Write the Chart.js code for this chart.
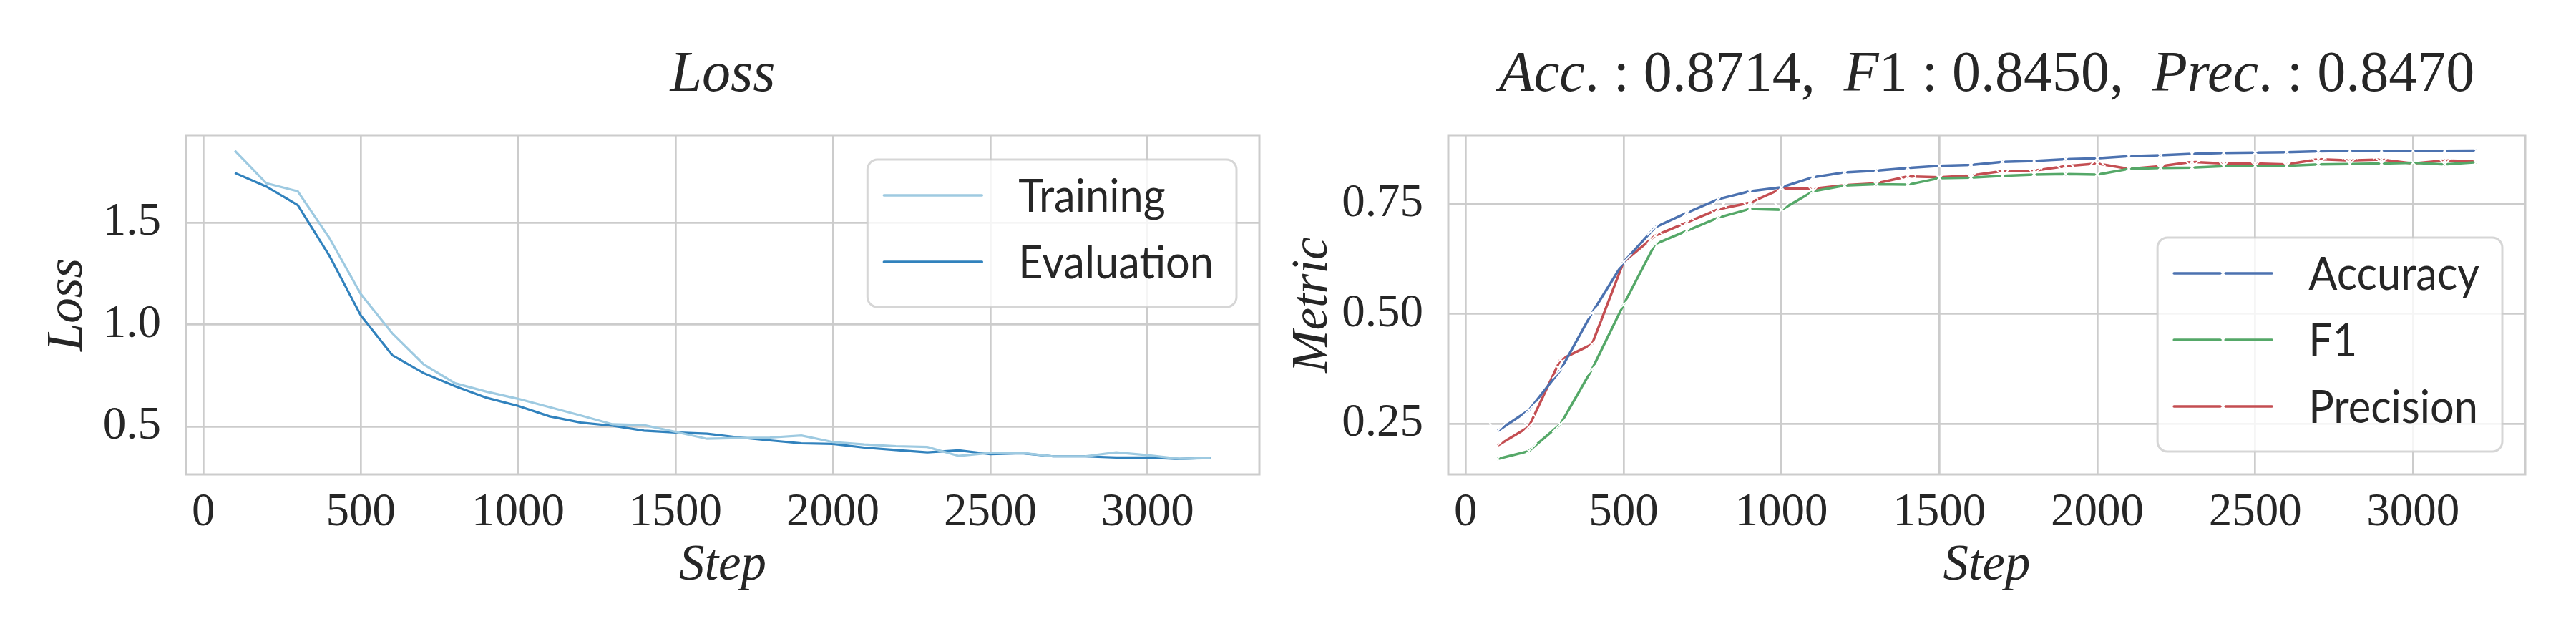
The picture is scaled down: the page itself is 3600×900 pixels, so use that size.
<!DOCTYPE html>
<html>
<head>
<meta charset="utf-8">
<script src="https://cdn.jsdelivr.net/npm/chart.js@4.4.0/dist/chart.umd.min.js"></script>
<style>
  html, body { margin: 0; padding: 0; background: #fff; }
  #wrap { position: relative; width: 3600px; height: 900px; }
  .panel { position: absolute; top: 0; width: 1800px; height: 900px; }
</style>
</head>
<body>
<div id="wrap">
  <div class="panel" style="left:0"><canvas id="lossChart" width="1800" height="900"></canvas></div>
  <div class="panel" style="left:1800px"><canvas id="metricChart" width="1800" height="900"></canvas></div>
</div>
<script>
// Chart data
const steps = [100, 200, 300, 400, 500, 600, 700, 800, 900, 1000, 1100, 1200, 1300, 1400, 1500, 1600,
               1700, 1800, 1900, 2000, 2100, 2200, 2300, 2400, 2500, 2600, 2700, 2800, 2900, 3000, 3100, 3200];
const trainingLoss = [1.852, 1.692, 1.653, 1.425, 1.150, 0.957, 0.805, 0.712, 0.671, 0.636, 0.595, 0.554, 0.511, 0.507, 0.474, 0.440,
                      0.444, 0.446, 0.456, 0.424, 0.412, 0.404, 0.400, 0.356, 0.371, 0.371, 0.354, 0.354, 0.374, 0.360, 0.342, 0.346];
const evaluationLoss = [1.743, 1.676, 1.585, 1.338, 1.045, 0.850, 0.762, 0.698, 0.641, 0.601, 0.550, 0.519, 0.504, 0.480, 0.471, 0.465,
                        0.447, 0.432, 0.418, 0.415, 0.397, 0.385, 0.374, 0.383, 0.365, 0.369, 0.354, 0.354, 0.348, 0.348, 0.341, 0.347];
const accuracy = [0.233, 0.281, 0.372, 0.502, 0.618, 0.697, 0.730, 0.761, 0.779, 0.788, 0.811, 0.822, 0.826, 0.832, 0.837, 0.839,
                  0.846, 0.848, 0.852, 0.854, 0.859, 0.861, 0.864, 0.866, 0.867, 0.868, 0.870, 0.871, 0.871, 0.871, 0.871, 0.8714];
const f1 = [0.170, 0.188, 0.249, 0.374, 0.521, 0.659, 0.689, 0.719, 0.739, 0.737, 0.779, 0.792, 0.795, 0.794, 0.809, 0.810,
            0.814, 0.817, 0.818, 0.817, 0.830, 0.832, 0.833, 0.836, 0.837, 0.837, 0.840, 0.841, 0.842, 0.844, 0.840, 0.845];
const precision = [0.200, 0.243, 0.396, 0.431, 0.618, 0.678, 0.708, 0.738, 0.753, 0.785, 0.785, 0.793, 0.797, 0.813, 0.811, 0.815,
                   0.825, 0.826, 0.836, 0.842, 0.830, 0.836, 0.846, 0.842, 0.842, 0.840, 0.852, 0.849, 0.851, 0.842, 0.849, 0.847];

// Tick labels
const stepTicks = [0, 500, 1000, 1500, 2000, 2500, 3000];
const stepTickLabels = ['0', '500', '1000', '1500', '2000', '2500', '3000'];
const lossTicks = [0.5, 1.0, 1.5];
const lossTickLabels = ['0.5', '1.0', '1.5'];
const metricTicks = [0.25, 0.5, 0.75];
const metricTickLabels = ['0.25', '0.50', '0.75'];

const SERIF = '"Liberation Serif", "DejaVu Serif", serif';
const SANS = 'Lato, "Open Sans", sans-serif';
const TEXT = '#262626';
const GRID = '#cccccc';

// matplotlib-like 5% margins around the data
function padRange(values) {
    const lo = Math.min(...values), hi = Math.max(...values);
    const m = (hi - lo) * 0.05;
    return [lo - m, hi + m];
}
const [xMin, xMax] = padRange(steps);
const [lossMin, lossMax] = padRange(trainingLoss.concat(evaluationLoss));
const [metricMin, metricMax] = padRange(accuracy.concat(f1, precision));

const points = arr => steps.map((s, i) => ({ x: s, y: arr[i] }));

// Frame round the plot area
const framePlugin = {
    id: 'frame',
    beforeDatasetsDraw(chart) {
        const { ctx, chartArea: a } = chart;
        ctx.save();
        ctx.strokeStyle = GRID;
        ctx.lineWidth = 3;
        ctx.strokeRect(a.left, a.top, a.right - a.left, a.bottom - a.top);
        ctx.restore();
    }
};

// Title with italic / upright runs, like mathtext
function mathTitle(runs) {
    return {
        id: 'mathTitle',
        afterDraw(chart) {
            const { ctx, chartArea: a } = chart;
            ctx.save();
            let total = 0;
            const parts = runs.map(([text, italic]) => {
                ctx.font = (italic ? 'italic ' : '') + '80px ' + SERIF;
                const w = ctx.measureText(text).width;
                total += w;
                return { text, font: ctx.font, w };
            });
            let x = (a.left + a.right) / 2 - total / 2;
            ctx.fillStyle = TEXT;
            ctx.textAlign = 'left';
            ctx.textBaseline = 'alphabetic';
            parts.forEach(p => {
                ctx.font = p.font;
                ctx.fillText(p.text, x, 127);
                x += p.w;
            });
            ctx.restore();
        }
    };
}

function drawCross(ctx, x, y) {
    const r = 11;
    ctx.save();
    ctx.strokeStyle = '#ffffff';
    ctx.lineWidth = 2;
    ctx.beginPath();
    ctx.moveTo(x - r, y - r); ctx.lineTo(x + r, y + r);
    ctx.moveTo(x - r, y + r); ctx.lineTo(x + r, y - r);
    ctx.stroke();
    ctx.restore();
}

// Legend box drawn inside the plot area
function boxLegend(corner, markers) {
    const squeeze = 0.93;
    return {
        id: 'boxLegend',
        afterDraw(chart) {
            const { ctx, chartArea: a } = chart;
            const sets = chart.data.datasets;
            ctx.save();
            ctx.font = '64px ' + SANS;
            const textW = squeeze * Math.max(...sets.map(d => ctx.measureText(d.label).width));
            const w = 23 + 137 + 51 + textW + 32;
            const h = 50 + 93 * (sets.length - 1) + 63;
            const x = a.right - 32 - w;
            const y = corner === 'upper' ? a.top + 34 : a.bottom - 32 - h;
            ctx.beginPath();
            ctx.roundRect(x, y, w, h, 14);
            ctx.fillStyle = 'rgba(255,255,255,0.8)';
            ctx.fill();
            ctx.strokeStyle = 'rgba(204,204,204,0.8)';
            ctx.lineWidth = 3;
            ctx.stroke();
            sets.forEach((d, i) => {
                const cy = y + 50 + 93 * i;
                ctx.beginPath();
                ctx.moveTo(x + 23, cy);
                ctx.lineTo(x + 160, cy);
                ctx.strokeStyle = d.borderColor;
                ctx.lineWidth = 3.5;
                ctx.lineCap = 'round';
                ctx.stroke();
                if (markers) drawCross(ctx, x + 91.5, cy);
                ctx.save();
                ctx.translate(x + 211, cy + 23);
                ctx.scale(squeeze, 1);
                ctx.fillStyle = TEXT;
                ctx.textAlign = 'left';
                ctx.textBaseline = 'alphabetic';
                ctx.fillText(d.label, 0, 0);
                ctx.restore();
            });
            ctx.restore();
        }
    };
}

function xScale() {
    return {
        type: 'linear',
        min: xMin,
        max: xMax,
        afterBuildTicks: s => { s.ticks = stepTicks.map(v => ({ value: v })); },
        afterFit: s => { s.height = 237; },
        grid: { color: GRID, lineWidth: 2.7, drawTicks: false },
        border: { display: false },
        ticks: {
            padding: 21, color: TEXT, maxRotation: 0, autoSkip: false,
            font: { family: SERIF, size: 65, lineHeight: 1 },
            callback: (v, i) => stepTickLabels[i]
        },
        title: {
            display: true, text: 'Step', color: TEXT,
            font: { family: SERIF, size: 71, style: 'italic', lineHeight: 1 },
            padding: { top: 0, bottom: 73 }
        }
    };
}

function yScale(min, max, tickVals, tickLabels, label, width, titlePad) {
    return {
        type: 'linear',
        min: min,
        max: max,
        afterBuildTicks: s => { s.ticks = tickVals.map(v => ({ value: v })); },
        afterFit: s => { s.width = width; },
        grid: { color: GRID, lineWidth: 2.7, drawTicks: false },
        border: { display: false },
        ticks: {
            padding: 35, color: TEXT, autoSkip: false,
            font: { family: SERIF, size: 65, lineHeight: 1 },
            callback: (v, i) => tickLabels[i]
        },
        title: {
            display: true, text: label, color: TEXT,
            font: { family: SERIF, size: 71, style: 'italic', lineHeight: 1 },
            padding: { top: titlePad, bottom: 0 }
        }
    };
}

const commonOptions = {
    responsive: false,
    devicePixelRatio: 1,
    animation: false,
    events: [],
    plugins: { legend: { display: false }, tooltip: { enabled: false } }
};

// Loss chart
const lossCtx = document.getElementById('lossChart').getContext('2d');
new Chart(lossCtx, {
    type: 'line',
    data: {
        datasets: [{
            label: 'Training',
            data: points(trainingLoss),
            borderColor: '#9ecae1',
            borderWidth: 3.2,
            pointRadius: 0,
            tension: 0
        }, {
            label: 'Evaluation',
            data: points(evaluationLoss),
            borderColor: '#3182bd',
            borderWidth: 3.2,
            pointRadius: 0,
            tension: 0
        }]
    },
    options: {
        ...commonOptions,
        layout: { padding: { left: 0, right: 40, top: 189, bottom: 0 } },
        scales: {
            x: xScale(),
            y: yScale(lossMin, lossMax, lossTicks, lossTickLabels, 'Loss', 260, 60)
        }
    },
    plugins: [framePlugin, mathTitle([['Loss', true]]), boxLegend('upper', false)]
});

// Metric chart
const markerStyle = {
    pointStyle: 'crossRot',
    pointRadius: 16,
    pointBorderColor: '#ffffff',
    pointBackgroundColor: '#ffffff',
    pointBorderWidth: 2,
    borderWidth: 3.5,
    tension: 0
};
const metricCtx = document.getElementById('metricChart').getContext('2d');
new Chart(metricCtx, {
    type: 'line',
    data: {
        datasets: [
            { label: 'Accuracy', data: points(accuracy), borderColor: '#4c72b0', ...markerStyle },
            { label: 'F1', data: points(f1), borderColor: '#55a868', ...markerStyle },
            { label: 'Precision', data: points(precision), borderColor: '#c44e52', ...markerStyle }
        ]
    },
    options: {
        ...commonOptions,
        layout: { padding: { left: 0, right: 71, top: 189, bottom: 0 } },
        scales: {
            x: xScale(),
            y: yScale(metricMin, metricMax, metricTicks, metricTickLabels, 'Metric', 224, 0)
        }
    },
    plugins: [framePlugin,
        mathTitle([['Acc', true], ['. : 0.8714,  ', false], ['F', true], ['1 : 0.8450,  ', false],
                   ['Prec', true], ['. : 0.8470', false]]),
        boxLegend('lower', true)]
});
</script>
</body>
</html>
